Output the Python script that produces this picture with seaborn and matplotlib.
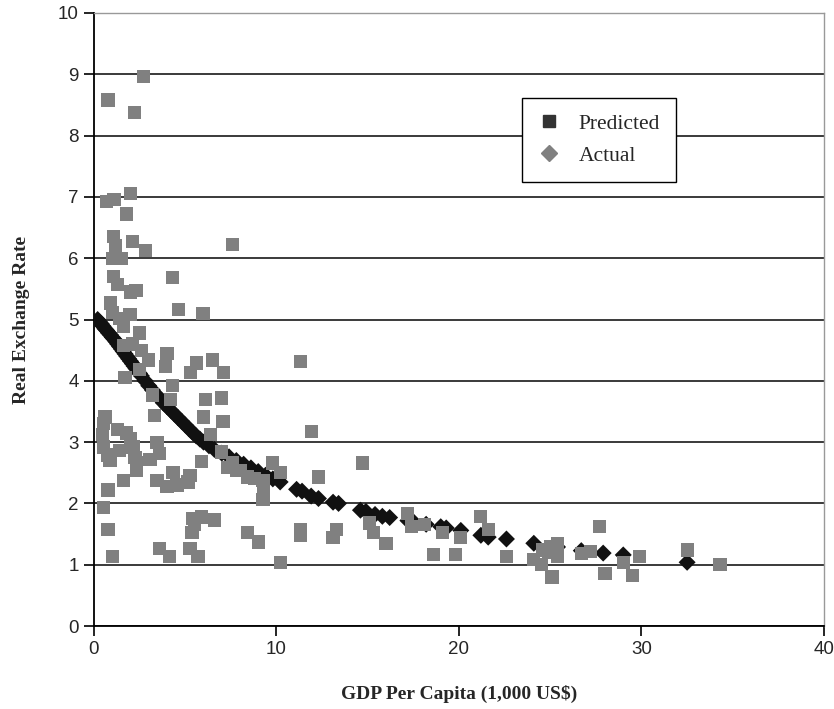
import matplotlib
matplotlib.use("Agg")
import matplotlib.pyplot as plt
from matplotlib.lines import Line2D
import pandas as pd
import seaborn as sns

# Actual observations (GDP per capita in 1,000 US$, real exchange rate)
actual_x = [2.7, 0.77, 2.2, 0.7, 1.1, 2.0, 1.8, 1.05, 2.1, 2.8, 7.6, 1.0, 1.5, 1.2,
            4.3, 1.05, 1.3, 2.3, 2.0, 4.65, 5.97, 0.9, 1.0, 1.97, 1.4,
            1.6, 2.5, 1.6, 2.6, 3.0, 2.5, 4.0, 3.9, 5.6, 6.5, 5.3, 7.1, 1.7, 2.1,
            3.2, 4.3, 4.2, 6.1, 7.0, 6.0, 7.07, 6.4, 3.3,
            0.6, 0.45, 0.5, 1.8, 2.14, 1.42, 3.45, 3.07, 3.6, 0.77, 2.35, 5.9, 7.0, 7.6,
            0.5, 0.88, 2.25, 2.35, 1.6, 0.77, 3.45, 4.0, 4.33, 4.55, 5.26, 5.15, 2.0, 1.3,
            7.3, 8.0, 8.4, 9.26, 9.26, 9.8, 10.2, 9.3, 8.8, 12.3, 14.7, 7.8,
            0.5, 0.77, 1.0, 3.6, 4.16, 5.4, 5.9, 6.6, 5.37, 5.26, 5.7, 5.5,
            8.4, 9.0, 10.2, 11.3, 11.9,
            11.3, 11.3, 13.3, 13.1, 15.1, 15.3, 16.0,
            17.2, 17.4, 18.1, 18.6, 19.1, 19.8, 20.1, 21.2, 21.6, 22.6, 24.1, 24.6,
            25.1, 25.4, 25.4, 24.9, 24.5, 25.0,
            26.7, 27.2, 27.7, 28.0, 29.0, 29.5, 29.9, 32.5, 34.3]
actual_y = [8.96, 8.58, 8.37, 6.93, 6.96, 7.05, 6.72, 6.35, 6.27, 6.13, 6.23, 6.0, 6.0, 6.2,
            5.68, 5.7, 5.57, 5.47, 5.45, 5.17, 5.1, 5.27, 5.12, 5.08, 5.02,
            4.88, 4.78, 4.58, 4.5, 4.34, 4.18, 4.45, 4.23, 4.29, 4.34, 4.13, 4.13, 4.06, 4.6,
            3.77, 3.93, 3.69, 3.69, 3.72, 3.41, 3.33, 3.12, 3.44,
            3.41, 3.12, 3.3, 3.15, 2.92, 2.87, 2.99, 2.71, 2.82, 2.79, 2.66, 2.68, 2.84, 2.66,
            2.92, 2.7, 2.75, 2.54, 2.38, 2.22, 2.38, 2.27, 2.5, 2.3, 2.46, 2.35, 3.05, 3.2,
            2.58, 2.54, 2.43, 2.38, 2.06, 2.66, 2.51, 2.17, 2.4, 2.43, 2.66, 2.54,
            1.94, 1.58, 1.13, 1.27, 1.13, 1.76, 1.78, 1.73, 1.52, 1.27, 1.13, 1.65,
            1.53, 1.37, 1.03, 4.31, 3.18,
            1.57, 1.48, 1.57, 1.45, 1.68, 1.53, 1.35,
            1.84, 1.62, 1.66, 1.17, 1.52, 1.17, 1.45, 1.79, 1.57, 1.13, 1.08, 1.24,
            0.8, 1.35, 1.13, 1.2, 1.0, 1.3,
            1.19, 1.21, 1.62, 0.86, 1.03, 0.83, 1.13, 1.24, 1.0]

# Predicted values
pred_x = [0.2, 0.3, 0.4, 0.5, 0.6, 0.7, 0.8, 0.9, 1.0, 1.1, 1.2, 1.3, 1.4, 1.5,
          1.6, 1.7, 1.8, 1.9, 2.0, 2.1, 2.2, 2.3, 2.4, 2.5, 2.6, 2.8, 3.0, 3.2,
          3.4, 3.6, 3.8, 4.0, 4.2, 4.4, 4.6, 4.8, 5.0, 5.2, 5.4, 5.6, 5.8, 6.0,
          6.3, 6.6, 7.0, 7.4, 7.8, 8.2, 8.6, 9.0, 9.4, 9.8, 10.2, 11.1, 11.4,
          11.9, 12.3, 13.1, 13.4, 14.6, 14.9, 15.4, 15.8, 16.2, 17.2, 17.5, 18.2,
          19.0, 19.3, 20.1, 21.2, 21.6, 22.6, 24.1, 25.4, 26.7, 27.9, 29.0, 32.5]
pred_y = [5.0, 4.96, 4.93, 4.89, 4.85, 4.82, 4.78, 4.75, 4.71, 4.68, 4.64, 4.6, 4.56, 4.52,
          4.48, 4.44, 4.4, 4.36, 4.32, 4.28, 4.24, 4.2, 4.16, 4.12, 4.08, 4.0, 3.92, 3.85,
          3.78, 3.71, 3.64, 3.58, 3.52, 3.46, 3.4, 3.34, 3.28, 3.22, 3.16, 3.1, 3.05, 3.0,
          2.94, 2.88, 2.82, 2.76, 2.7, 2.64, 2.58, 2.52, 2.46, 2.4, 2.35, 2.23, 2.2,
          2.12, 2.08, 2.02, 2.0, 1.89, 1.87, 1.82, 1.79, 1.77, 1.72, 1.7, 1.66,
          1.62, 1.6, 1.56, 1.48, 1.45, 1.42, 1.35, 1.29, 1.23, 1.19, 1.16, 1.04]

df_actual = pd.DataFrame({"gdp": actual_x, "rer": actual_y})
df_pred = pd.DataFrame({"gdp": pred_x, "rer": pred_y})

sns.set_style("white")
plt.rcParams["font.family"] = ["Liberation Sans Narrow", "Liberation Sans", "DejaVu Sans"]

fig, ax = plt.subplots(figsize=(8.34, 7.09), dpi=100)
fig.subplots_adjust(left=0.1127, right=0.988, bottom=0.117, top=0.9817)

ax.yaxis.grid(True, color="#2b2b2b", linewidth=1.3, zorder=0)
ax.set_axisbelow(True)

sns.scatterplot(x="gdp", y="rer", data=df_pred, marker="D", s=75, color="#111111",
                edgecolor="none", ax=ax, zorder=3)
sns.scatterplot(x="gdp", y="rer", data=df_actual, marker="s", s=90, color="#808080",
                edgecolor="none", ax=ax, zorder=4)

ax.set_xlim(0, 40)
ax.set_ylim(0, 10)
ax.set_xticks([0, 10, 20, 30, 40])
ax.set_yticks(range(0, 11))
ax.tick_params(axis="both", direction="out", length=7, width=1.2, color="black",
               labelsize=13.5, pad=4, left=True, bottom=True)

for side in ["left", "bottom"]:
    ax.spines[side].set_color("black")
    ax.spines[side].set_linewidth(1.3)
for side in ["top", "right"]:
    ax.spines[side].set_color("#999999")
    ax.spines[side].set_linewidth(1.0)

ax.set_xlabel("GDP Per Capita (1,000 US$)", family="Liberation Serif", fontweight="bold",
              fontsize=14, labelpad=19)
ax.set_ylabel("Real Exchange Rate", family="Liberation Serif", fontweight="bold",
              fontsize=14, labelpad=20)

handles = [Line2D([], [], linestyle="none", marker="s", markersize=8, color="#333333"),
           Line2D([], [], linestyle="none", marker="D", markersize=8, color="#808080")]
leg = ax.legend(handles, ["Predicted", "Actual"], loc="upper left",
                bbox_to_anchor=(0.586, 0.862), frameon=True, fancybox=False,
                edgecolor="black", framealpha=1, borderpad=0.75, labelspacing=0.55,
                handlelength=1.0, handletextpad=0.9, borderaxespad=0,
                prop={"family": "Liberation Serif", "size": 15.5})
leg.get_frame().set_linewidth(1.0)
leg.set_zorder(10)

plt.savefig("out.png", dpi=100)
